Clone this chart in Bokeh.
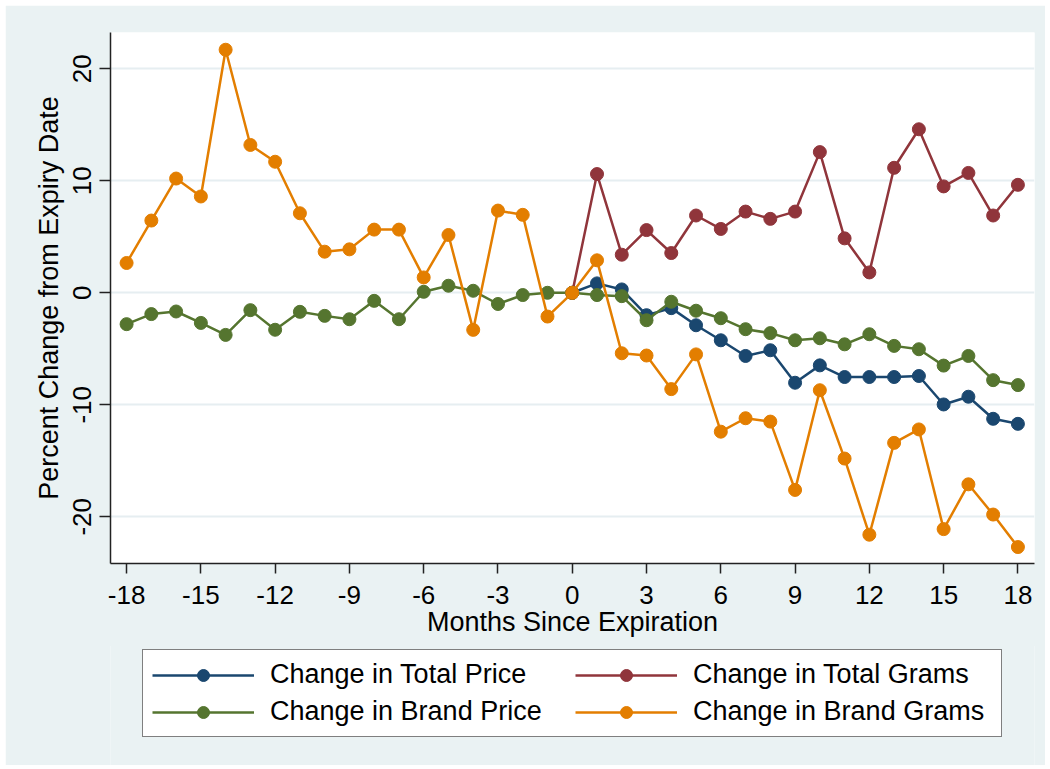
from bokeh.plotting import figure
from bokeh.layouts import column
from bokeh.models import Range1d, FixedTicker, Legend, LegendItem
from bokeh.embed import file_html
from bokeh.resources import INLINE

# ---- data ----
months_all = list(range(-18, 19))
months_post = list(range(0, 19))

brand_grams = [2.66, 6.45, 10.2, 8.6, 21.7, 13.2, 11.7, 7.1, 3.67, 3.88, 5.64, 5.64,
               1.37, 5.16, -3.31, 7.34, 6.96, -2.12, 0.0,
               2.9, -5.4, -5.6, -8.6, -5.5, -12.4, -11.2, -11.5, -17.6, -8.7, -14.8,
               -21.6, -13.4, -12.2, -21.1, -17.1, -19.8, -22.7]
brand_price = [-2.8, -1.9, -1.67, -2.69, -3.76, -1.55, -3.3, -1.7, -2.06, -2.36, -0.72, -2.36,
               0.09, 0.63, 0.18, -1.0, -0.2, 0.0, 0.0,
               -0.2, -0.3, -2.45, -0.8, -1.6, -2.27, -3.25, -3.6, -4.24, -4.06, -4.6,
               -3.7, -4.74, -5.04, -6.5, -5.64, -7.8, -8.24]
total_price = [0.0, 0.84, 0.3, -2.0, -1.37, -2.9, -4.24, -5.64, -5.13, -8.03, -6.48,
               -7.52, -7.52, -7.52, -7.43, -9.97, -9.28, -11.25, -11.7]
total_grams = [0.0, 10.6, 3.4, 5.6, 3.55, 6.9, 5.7, 7.25, 6.6, 7.25, 12.56,
               4.86, 1.82, 11.16, 14.6, 9.5, 10.7, 6.9, 9.64]

x_ticks = list(range(-18, 19, 3))
y_ticks = [-20, -10, 0, 10, 20]

names = ["Change in Total Price", "Change in Total Grams",
         "Change in Brand Price", "Change in Brand Grams"]
colors = ["#1A476F", "#90353B", "#55752F", "#E37E00"]

FONT = "Liberation Sans"
BG = "#EAF2F3"

p = figure(width=1040, height=641, output_backend="svg", toolbar_location=None,
           x_range=Range1d(-18.65, 18.67), y_range=Range1d(-24.17, 23.24),
           min_border_left=105, min_border_right=11, min_border_top=27,
           min_border_bottom=83,
           background_fill_color="white", border_fill_color=BG,
           outline_line_color=None, margin=(5, 5, 0, 5))

series = [(months_post, total_price), (months_post, total_grams),
          (months_all, brand_price), (months_all, brand_grams)]
for (xs, ys), c in zip(series, colors):
    p.line(xs, ys, line_color=c, line_width=2.5)
    p.scatter(xs, ys, size=13, fill_color=c, line_color=c, marker="circle")

# axes
for ax in (p.xaxis[0], p.yaxis[0]):
    ax.axis_line_color = "#222222"
    ax.axis_line_width = 1.5
    ax.major_tick_line_color = "#222222"
    ax.major_tick_line_width = 1.5
    ax.major_tick_in = 0
    ax.minor_tick_line_color = None
    ax.major_label_text_font = FONT
    ax.major_label_text_font_size = "26px"
    ax.major_label_text_color = "black"
    ax.axis_label_text_font = FONT
    ax.axis_label_text_font_size = "27px"
    ax.axis_label_text_font_style = "normal"
    ax.axis_label_text_color = "black"

p.xaxis.ticker = FixedTicker(ticks=x_ticks)
p.xaxis.major_label_overrides = {t: str(t) for t in x_ticks}
p.xaxis.major_tick_out = 10
p.xaxis.major_label_standoff = 12
p.xaxis.axis_label = "Months Since Expiration"
p.xaxis.axis_label_standoff = 0

p.yaxis.ticker = FixedTicker(ticks=y_ticks)
p.yaxis.major_label_overrides = {t: str(t) for t in y_ticks}
p.yaxis.major_tick_out = 11
p.yaxis.major_label_orientation = "vertical"
p.yaxis.major_label_standoff = 8
p.yaxis.axis_label = "Percent Change from Expiry Date"
p.yaxis.axis_label_standoff = 7

p.xgrid.grid_line_color = None
p.ygrid.grid_line_color = "#E6EEF1"
p.ygrid.grid_line_width = 2

# ---- legend panel (its renderers sit outside the visible range; only the key shows) ----
p2 = figure(width=1040, height=120, output_backend="svg", toolbar_location=None,
            x_range=Range1d(1000, 1001), y_range=Range1d(1000, 1001),
            x_axis_location=None, y_axis_location=None,
            min_border=0, background_fill_color=BG, border_fill_color=BG,
            outline_line_color=None, margin=(-1, 5, 4, 5))
p2.xgrid.grid_line_color = None
p2.ygrid.grid_line_color = None

items = []
for (xs, ys), name, c in zip(series, names, colors):
    r1 = p2.line(xs, ys, line_color=c, line_width=2.5)
    r2 = p2.scatter(xs, ys, size=13, fill_color=c, line_color=c, marker="circle")
    items.append(LegendItem(label=name, renderers=[r1, r2]))

legend = Legend(items=items, orientation="horizontal", ncols=2, location=(32, 28),
                glyph_width=102, glyph_height=30, label_height=30, label_width=299,
                label_standoff=16, spacing=6, padding=9, margin=0,
                label_text_font=FONT, label_text_font_size="27px",
                label_text_color="black",
                border_line_color="black", border_line_width=1.5,
                background_fill_color="white", background_fill_alpha=1.0)
p2.add_layout(legend, "center")

layout = column(p, p2, spacing=0)
open("out.html", "w").write(file_html(layout, INLINE))
